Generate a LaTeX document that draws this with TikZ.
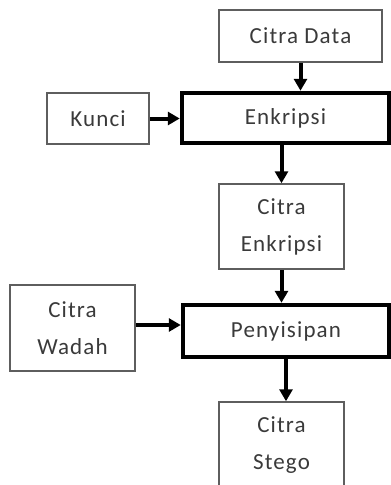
\documentclass[tikz,border=0pt]{standalone}
\usepackage{fontspec}
\setmainfont{Carlito}[LetterSpace=5]
\usetikzlibrary{positioning,arrows.meta}
\definecolor{boxgray}{HTML}{5E5E5E}
\definecolor{textgray}{HTML}{3A3A3A}

\begin{document}
\begin{tikzpicture}[%
    x=1pt, y=-1pt,
    ->,
    >={Triangle[length=12pt,width=13pt]},
    line width=4pt,
    box/.style={%
      rectangle,
      draw=boxgray,
      line width=1.5pt,
      text=textgray,
      align=center,
      inner sep=0pt,
      font=\fontsize{23}{37}\selectfont
    },
    proses/.style={%
      box,
      draw=black,
      line width=4.5pt
    }
  ]
    \clip (0,0) rectangle (391,485);
    \node[box,minimum width=163pt,minimum height=52pt] (data)   at (300.5,36)   {Citra Data};
    \node[proses,minimum width=207pt,minimum height=50pt] (enkripsi) at (285.5,118) {Enkripsi};
    \node[box,minimum width=102pt,minimum height=51pt] (kunci)  at (98,118.5)   {Kunci};
    \node[box,minimum width=125pt,minimum height=85pt] (cenkripsi) at (281.5,226.5) {Citra\\Enkripsi};
    \node[proses,minimum width=206pt,minimum height=52pt] (sisip) at (286,331)  {Penyisipan};
    \node[box,minimum width=125pt,minimum height=86pt] (wadah)  at (72.5,328)   {Citra\\Wadah};
    \node[box,minimum width=125pt,minimum height=86pt] (stego)  at (281.5,445)  {Citra\\Stego};

    \path (data)      edge (data.south |- enkripsi.north)
          (kunci)     edge (kunci.east -| enkripsi.west)
          (cenkripsi.north |- enkripsi.south) edge (cenkripsi)
          (cenkripsi) edge (cenkripsi.south |- sisip.north)
          (wadah.east |- 0,325) edge (sisip.west |- 0,325)
          (sisip) edge (sisip.south |- stego.north);
\end{tikzpicture}
\end{document}
